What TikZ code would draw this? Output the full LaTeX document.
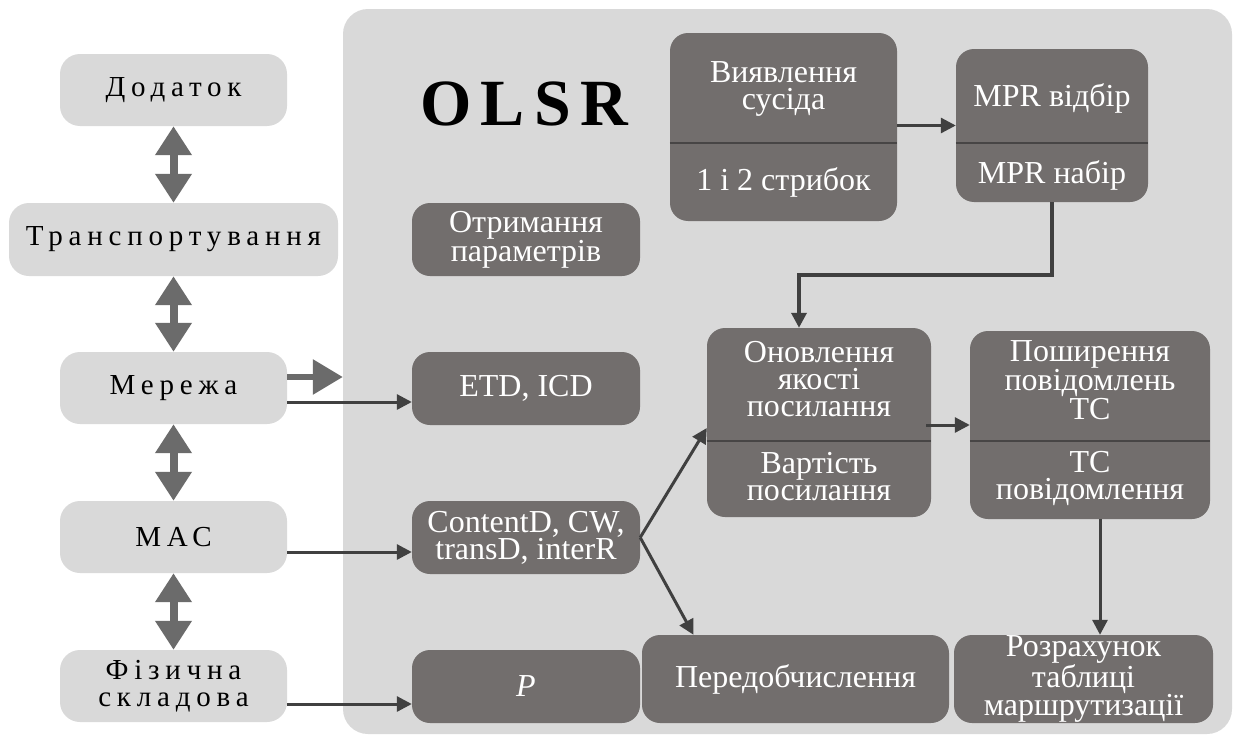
\documentclass[tikz,border=0pt]{standalone}
\usepackage{fontspec}
\setmainfont{Liberation Serif}
\newfontfamily\spacedfont[LetterSpace=20]{Liberation Serif}
\newfontfamily\olsrfont[LetterSpace=14]{Liberation Serif}
\usetikzlibrary{arrows.meta}
\definecolor{panelgray}{HTML}{D9D9D9}
\definecolor{boxdark}{HTML}{726E6D}
\definecolor{arrowdark}{HTML}{404040}
\definecolor{dblgray}{HTML}{6B6B6B}
\definecolor{divline}{HTML}{474545}
\begin{document}
\begin{tikzpicture}[x=1pt,y=-1pt,
  layerbox/.style={fill=panelgray, rounded corners=20pt, inner sep=0pt, font=\spacedfont\fontsize{29}{27}\selectfont, align=center, text=black},
  darkbox/.style={fill=boxdark, rounded corners=18pt, inner sep=0pt, text=white, font=\fontsize{32}{27}\selectfont, align=center},
  boxtext/.style={text=white, font=\fontsize{32}{27}\selectfont, align=center, inner sep=0pt},
  thinarrow/.style={draw=arrowdark, line width=3pt, -{Triangle[length=15pt,width=15pt]}},
  dblarrow/.style={draw=dblgray, line width=8pt, {Triangle[length=29pt,width=35pt]}-{Triangle[length=29pt,width=35pt]}},
  bigarrow/.style={draw=dblgray, line width=6pt, -{Triangle[length=30pt,width=34pt]}},
  divider/.style={draw=divline, line width=2.5pt}
]
\useasboundingbox (0,0) rectangle (1234,736);
\fill[white] (0,0) rectangle (1234,736);

% OLSR panel
\node[fill=panelgray, rounded corners=25pt, minimum width=889pt, minimum height=725pt, inner sep=0pt] (panel) at (787.5,371.5) {};
\node[font=\olsrfont\bfseries\fontsize{66}{66}\selectfont, inner sep=0pt] (olsr) at (524,104) {OLSR};

% left layer column
\node[layerbox, minimum width=227pt, minimum height=72pt] (dod) at (173.5,90) {Додаток};
\node[layerbox, minimum width=329pt, minimum height=73pt] (tra) at (173.5,239.5) {Транспортування};
\node[layerbox, minimum width=227pt, minimum height=72pt] (mer) at (173.5,388) {Мережа};
\node[layerbox, minimum width=227pt, minimum height=72pt] (mac) at (173.5,537) {МАС};
\node[layerbox, minimum width=227pt, minimum height=72pt] (fiz) at (173.5,686) {Фізична\\складова};

\draw[dblarrow] (dod.south) -- (tra.north);
\draw[dblarrow] (tra.south) -- (mer.north);
\draw[dblarrow] (mer.south) -- (mac.north);
\draw[dblarrow] (mac.south) -- (fiz.north);

% parameter boxes
\node[darkbox, minimum width=228pt, minimum height=73pt] (otr) at (526,239.5) {Отримання\\параметрів};
\node[darkbox, minimum width=228pt, minimum height=73pt] (etd) at (526,388.5) {ETD, ICD};
\node[darkbox, minimum width=228pt, minimum height=73pt] (cont) at (526,537.5) {ContentD, CW,\\transD, interR};
\node[darkbox, minimum width=228pt, minimum height=73pt] (p) at (526,686.5) {\itshape P};

\draw[bigarrow] ([yshift=11pt]mer.east) -- ([yshift=11pt]mer.east -| panel.west);
\draw[thinarrow] ([yshift=-14pt]mer.east) -- ([yshift=-14pt]mer.east -| etd.west);
\draw[thinarrow] ([yshift=-15pt]mac.east) -- ([yshift=-15pt]mac.east -| cont.west);
\draw[thinarrow] ([yshift=-18pt]fiz.east) -- ([yshift=-18pt]fiz.east -| p.west);

% split boxes
\node[darkbox, minimum width=227pt, minimum height=188pt] (vyy) at (783.5,127) {};
\draw[divider] (vyy.west |- 0,143) -- (vyy.east |- 0,143);
\node[boxtext] (vyyt) at (783.5,89) {Виявлення\\сусіда};
\node[boxtext] (vyyb) at (783.5,182) {1 і 2 стрибок};

\node[darkbox, minimum width=192pt, minimum height=153pt] (mpr) at (1052,125.5) {};
\draw[divider] (mpr.west |- 0,143) -- (mpr.east |- 0,143);
\node[boxtext] (mprt) at (1052,98) {MPR відбір};
\node[boxtext] (mprb) at (1052,175) {MPR набір};

\node[darkbox, minimum width=224pt, minimum height=189pt] (onov) at (819,422.5) {};
\draw[divider] (onov.west |- 0,441) -- (onov.east |- 0,441);
\node[boxtext] (onovt) at (819,379) {Оновлення\\якості\\посилання};
\node[boxtext] (onovb) at (819,477) {Вартість\\посилання};

\node[darkbox, minimum width=240pt, minimum height=188pt] (posh) at (1090,425) {};
\draw[divider] (posh.west |- 0,441) -- (posh.east |- 0,441);
\node[boxtext] (posht) at (1090,380) {Поширення\\повідомлень\\TC};
\node[boxtext] (poshb) at (1090,478) {TC\\повідомлення};

\node[darkbox, minimum width=307pt, minimum height=88pt] (pered) at (795.5,679) {Передобчислення};
\node[darkbox, minimum width=259pt, minimum height=88pt] (rozr) at (1083.5,679) {Розрахунок\\таблиці\\маршрутизації};

% connectors
\draw[thinarrow] (vyy.east |- mpr.west) -- (mpr.west);
\coordinate (bend) at (799,275);
\draw[thinarrow, line width=3.5pt] (mpr.south) |- (bend) -- (bend |- onov.north);
\draw[thinarrow] (cont.east) -- ([yshift=-5.5pt]onov.west);
\draw[thinarrow] (cont.east) -- ([xshift=-102pt]pered.north);
\draw[thinarrow] ([xshift=-5pt]onov.east |- posh.west) -- (posh.west);
\draw[thinarrow] ([xshift=10pt]posh.south) -- ([xshift=10pt]posh.south |- rozr.north);
\end{tikzpicture}
\end{document}
